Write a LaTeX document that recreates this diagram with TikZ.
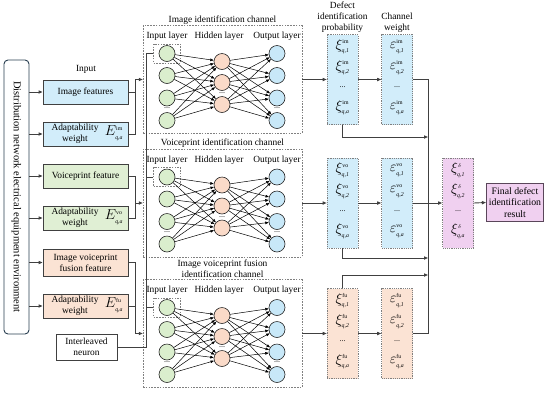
\documentclass[tikz,border=0pt]{standalone}
\usepackage{fontspec}
\setmainfont{Liberation Serif}
\usetikzlibrary{arrows.meta,calc}
\definecolor{cblue}{RGB}{210,237,250}
\definecolor{cgreen}{RGB}{224,239,212}
\definecolor{cpeach}{RGB}{251,227,212}
\definecolor{cpink}{RGB}{240,208,240}
\definecolor{nblue}{RGB}{200,232,248}
\definecolor{ngreen}{RGB}{218,238,205}
\definecolor{npeach}{RGB}{250,218,200}
\definecolor{dline}{RGB}{64,64,64}
\definecolor{envline}{RGB}{40,62,80}
\definecolor{finline}{RGB}{90,70,90}
\newcommand{\tinytxt}[1]{\hbox{\fontsize{5.8}{6}\selectfont #1}}
\newcommand{\gsym}[3]{$#1^{\tinytxt{#2}}_{\tinytxt{\itshape q,#3}}$}
\begin{document}
\begin{tikzpicture}[x=1pt,y=-1pt,font=\fontsize{9.4}{11}\selectfont,
  inbox/.style={draw=dline, line width=0.8pt, minimum width=85pt, minimum height=24pt, align=center, inner sep=1pt},
  chan/.style={draw=gray, dash pattern=on 1.6pt off 1.2pt, line width=0.5pt, minimum width=159pt, minimum height=108pt, inner sep=0pt},
  neuron/.style={circle, draw=black!85, line width=0.6pt, minimum size=16pt, inner sep=0pt},
  col/.style={draw=gray, dash pattern=on 1.2pt off 1pt, line width=0.6pt, minimum width=31pt, minimum height=90pt, inner sep=0pt},
  sbox/.style={draw=gray, dash pattern=on 1.6pt off 1.2pt, line width=0.5pt, minimum width=27pt, minimum height=19pt, inner sep=0pt},
  conn/.style={draw=dline, line width=0.9pt},
  arr/.style={conn, -{Triangle[length=4pt,width=3.2pt]}},
  nnedge/.style={line width=0.5pt, -{Triangle[length=3.5pt,width=2.6pt]}},
  symb/.style={font=\fontsize{14.5}{14.5}\selectfont, inner sep=0pt},
  dotsn/.style={font=\fontsize{8}{8}\selectfont, inner sep=0pt}]
\useasboundingbox (0,0) rectangle (550,392);

% environment box
\node[draw=envline, line width=0.9pt, rounded corners=4pt, minimum width=25pt, minimum height=274pt, inner sep=0pt] (env) at (16.5,197) {};
\node[rotate=-90, font=\fontsize{10.5}{12}\selectfont] (envt) at (env.center) {Distribution network electrical equipment environment};

% inputs
\node (intitle) at (86,69) {Input};
\node[inbox, fill=cblue] (b1) at (85.5,92) {Image features};
\node[inbox, fill=cblue] (b2) at (85.5,134) {};
\node[inbox, fill=cgreen] (b3) at (85.5,176) {Voiceprint feature};
\node[inbox, fill=cgreen] (b4) at (85.5,218) {};
\node[inbox, fill=cpeach, minimum height=27pt] (b5) at (85.5,262.5) {Image voiceprint\\fusion feature};
\node[inbox, fill=cpeach] (b6) at (85.5,306) {};
\node[align=center, inner sep=0pt] (b2t) at (75,134) {Adaptability\\weight};
\node[align=center, inner sep=0pt] (b4t) at (75,218) {Adaptability\\weight};
\node[align=center, inner sep=0pt] (b6t) at (75,306) {Adaptability\\weight};
\node[symb, font=\fontsize{13.5}{13.5}\selectfont] (b2e) at (114,133) {\gsym{E}{im}{a}};
\node[symb, font=\fontsize{13.5}{13.5}\selectfont] (b4e) at (114,217) {\gsym{E}{vo}{a}};
\node[symb, font=\fontsize{13.5}{13.5}\selectfont] (b6e) at (114,305) {\gsym{E}{fu}{a}};
\node[draw=dline, line width=0.7pt, fill=white, minimum width=61pt, minimum height=26pt, align=center, inner sep=0pt] (inter) at (86.5,347) {Interleaved\\neuron};

\foreach \b in {b1,b2,b3,b4,b5,b6} \draw[arr] (env.east |- \b) -- (\b.west);

% channels
\node[chan] (ch1) at (222.5,79.5) {};
\node[chan] (ch2) at (222.5,203) {};
\node[chan] (ch3) at (222.5,333.5) {};
\node[anchor=south, inner sep=1pt] (t1) at (ch1.north) {Image identification channel};
\node[anchor=south, inner sep=1pt] (t2) at (ch2.north) {Voiceprint identification channel};
\node[anchor=south, inner sep=1pt, align=center] (t3) at (ch3.north) {Image voiceprint fusion\\identification channel};

\foreach \k/\T in {1/25.5,2/149,3/279.5} {
  \node (li\k) at (167,\T+11) {Input layer};
  \node (lh\k) at (219,\T+11) {Hidden layer};
  \node (lo\k) at (277,\T+11) {Output layer};
  \node[sbox] (sb\k) at (167,\T+28) {};
  \foreach \j/\o in {1/28,2/50,3/72.5,4/95} {
    \node[neuron, fill=ngreen] (i\k\j) at (167,\T+\o) {};
    \node[neuron, fill=nblue] (o\k\j) at (277,\T+\o) {};
  }
  \foreach \j/\o in {1/36,2/57,3/79} \node[neuron, fill=npeach] (h\k\j) at (222,\T+\o) {};
  \foreach \a in {1,2,3,4} \foreach \c in {1,2,3} {
    \draw[nnedge] (i\k\a) -- (h\k\c);
    \draw[nnedge] (h\k\c) -- (o\k\a);
  }
  \node[dotsn] (di\k) at (167,\T+83) {...};
  \node[dotsn] (dh\k) at (222,\T+68) {...};
  \node[dotsn] (do\k) at (277,\T+83) {...};
}

% input group connectors
\coordinate (g1) at (135,79.5);
\coordinate (g2) at (135,203);
\coordinate (g3) at (135,333.5);
\draw[conn] (b1.east) -| (g1);
\draw[conn] (b2.east) -| (g1);
\draw[arr] (g1) -- (g1 -| ch1.west);
\draw[conn] (b3.east) -| (g2);
\draw[conn] (b4.east) -| (g2);
\draw[arr] (g2) -- (g2 -| ch2.west);
\draw[conn] (b5.east) -| (g3);
\draw[conn] (b6.east) -| (g3);
\draw[arr] (g3) -- (g3 -| ch3.west);

% interleaved neuron bus
\coordinate (ibt) at (146,53.5);
\draw[conn] (inter.east) -| (ibt) -- (sb1.west);
\draw[conn] (sb2.west -| ibt) -- (sb2.west);
\draw[conn] (sb3.west -| ibt) -- (sb3.west);

% headers
\node[align=center] (hp) at (342.5,17.5) {Defect\\identification\\probability};
\node[align=center] (hw) at (397,22.5) {Channel\\weight};

% columns
\foreach \r/\y/\fc/\ss in {1/79.5/cblue/im,2/203/cblue/vo,3/333.5/cpeach/fu} {
  \node[col, fill=\fc] (p\r) at (342.5,\y) {};
  \node[col, fill=\fc] (w\r) at (397,\y) {};
  \foreach \j/\o/\sb in {1/12/1,2/33/2,4/73/a} {
    \node[symb] (p\r\j) at (342.5,\y-45+\o) {\gsym{\xi}{\ss}{\sb}};
    \node[symb] (w\r\j) at (397,\y-45+\o) {\gsym{\varepsilon}{\ss}{\sb}};
  }
  \node[dotsn] (pd\r) at (342.5,\y+8) {...};
  \node[dotsn] (wd\r) at (397,\y+8) {...};
  \draw[arr] (ch\r.east |- p\r.west) -- (p\r.west);
  \draw[arr] (p\r.east) -- (w\r.west);
}

\node[col, fill=cpink] (pk) at (458,203) {};
\foreach \j/\o/\sb in {1/12/1,2/33/2,4/73/a}
  \node[symb] (pk\j) at (458,203-45+\o) {\gsym{\xi}{$\scriptscriptstyle\delta$}{\sb}};
\node[dotsn] (pkd) at (458,211) {...};

\node[draw=finline, line width=1.2pt, fill=cpink, minimum width=57pt, minimum height=38pt, align=center, inner sep=0pt, font=\fontsize{9.8}{11.5}\selectfont] (fin) at (515,202.5) {Final defect\\identification\\result};

% bus on the right
\coordinate (bt) at (428,79.5);
\coordinate (bb) at (428,333.5);
\draw[conn] (w1.east) -- (bt) -- (bb) -- (w3.east);
\coordinate (j1) at (428,137);
\coordinate (j2) at (428,258);
\coordinate (j3) at (428,275);
\draw[arr] (p1.south) |- (j1);
\draw[arr] (p2.south) |- (j2);
\draw[arr] (p3.north) |- (j3);
\draw[arr] (w2.east) -- (pk.west);
\draw[arr] (pk.east) -- (fin.west);
\end{tikzpicture}
\end{document}
